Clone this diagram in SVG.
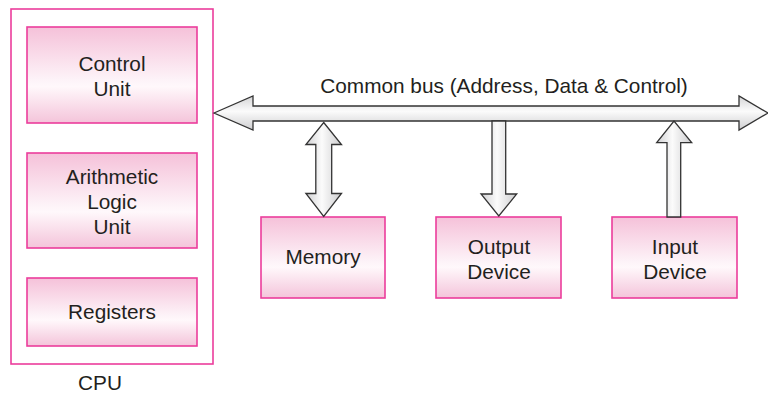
<svg xmlns="http://www.w3.org/2000/svg" width="768" height="393" viewBox="0 0 768 393">
  <defs>
    <linearGradient id="boxFill" x1="0" y1="0" x2="0" y2="1">
      <stop offset="0" stop-color="#f5c1d9"/>
      <stop offset="0.55" stop-color="#fdf3f8"/>
      <stop offset="0.62" stop-color="#fff8fb"/>
      <stop offset="1" stop-color="#f4c4da"/>
    </linearGradient>
    <linearGradient id="busFill" x1="0" y1="0" x2="0" y2="1">
      <stop offset="0" stop-color="#d4d4d6"/>
      <stop offset="0.45" stop-color="#fbfbfb"/>
      <stop offset="1" stop-color="#cfcfd1"/>
    </linearGradient>
    <linearGradient id="vFill" x1="0" y1="0" x2="1" y2="0">
      <stop offset="0" stop-color="#d0d0d2"/>
      <stop offset="0.45" stop-color="#fbfbfb"/>
      <stop offset="1" stop-color="#cdcdcf"/>
    </linearGradient>
  </defs>
  <style>
    .box { fill: url(#boxFill); stroke: #ec3d9c; stroke-width: 1.6; }
    .frame { fill: #ffffff; stroke: #ec3d9c; stroke-width: 1.6; }
    .lbl { font-family: "Liberation Sans", Arial, sans-serif; font-size: 20.8px; fill: #231f20; text-anchor: middle; }
    .bus { fill: url(#busFill); stroke: #333333; stroke-width: 1.3; stroke-linejoin: miter; }
    .varrow { fill: url(#vFill); stroke: #333333; stroke-width: 1.3; stroke-linejoin: miter; }
  </style>

  <rect width="768" height="393" fill="#ffffff"/>

  <!-- CPU enclosure -->
  <g id="cpu">
    <rect class="frame" x="11" y="9" width="202" height="355"/>
    <text class="lbl" x="100" y="390">CPU</text>
  </g>

  <g id="control-unit">
    <rect class="box" x="27" y="27" width="170" height="96"/>
    <text class="lbl" x="112" y="71">Control</text>
    <text class="lbl" x="112" y="96">Unit</text>
  </g>

  <g id="alu">
    <rect class="box" x="27" y="153" width="170" height="95"/>
    <text class="lbl" x="112" y="184">Arithmetic</text>
    <text class="lbl" x="112" y="209">Logic</text>
    <text class="lbl" x="112" y="234">Unit</text>
  </g>

  <g id="registers">
    <rect class="box" x="27" y="278" width="170" height="68"/>
    <text class="lbl" x="112" y="319">Registers</text>
  </g>

  <g id="memory">
    <rect class="box" x="261" y="217" width="124" height="81"/>
    <text class="lbl" x="323" y="264">Memory</text>
  </g>

  <g id="output-device">
    <rect class="box" x="436" y="217" width="125" height="81"/>
    <text class="lbl" x="499" y="254">Output</text>
    <text class="lbl" x="499" y="279">Device</text>
  </g>

  <g id="input-device">
    <rect class="box" x="612" y="217" width="125" height="81"/>
    <text class="lbl" x="675" y="254">Input</text>
    <text class="lbl" x="675" y="279">Device</text>
  </g>

  <!-- Bus and transfer arrows -->
  <g id="connectors">
    <polygon class="bus" points="214,113 253,96 253,106 739,106 739,96 768,113 739,130 739,121 253,121 253,130"/>
    <text class="lbl" x="504" y="93">Common bus (Address, Data &amp; Control)</text>

    <!-- memory: two-way -->
    <polygon class="varrow" points="323.7,122.5 341.5,144.5 331.7,144.5 331.7,193.5 341.5,193.5 323.7,216.5 305.9,193.5 315.8,193.5 315.8,144.5 305.9,144.5"/>

    <!-- bus to output device -->
    <polygon class="varrow" points="492,121 505.7,121 505.7,194 516.7,194 498.8,216 481,194 492,194"/>

    <!-- input device to bus -->
    <polygon class="varrow" points="667,217 680.7,217 680.7,142.7 691.7,142.7 674,121 656.7,142.7 667,142.7"/>
  </g>
</svg>
